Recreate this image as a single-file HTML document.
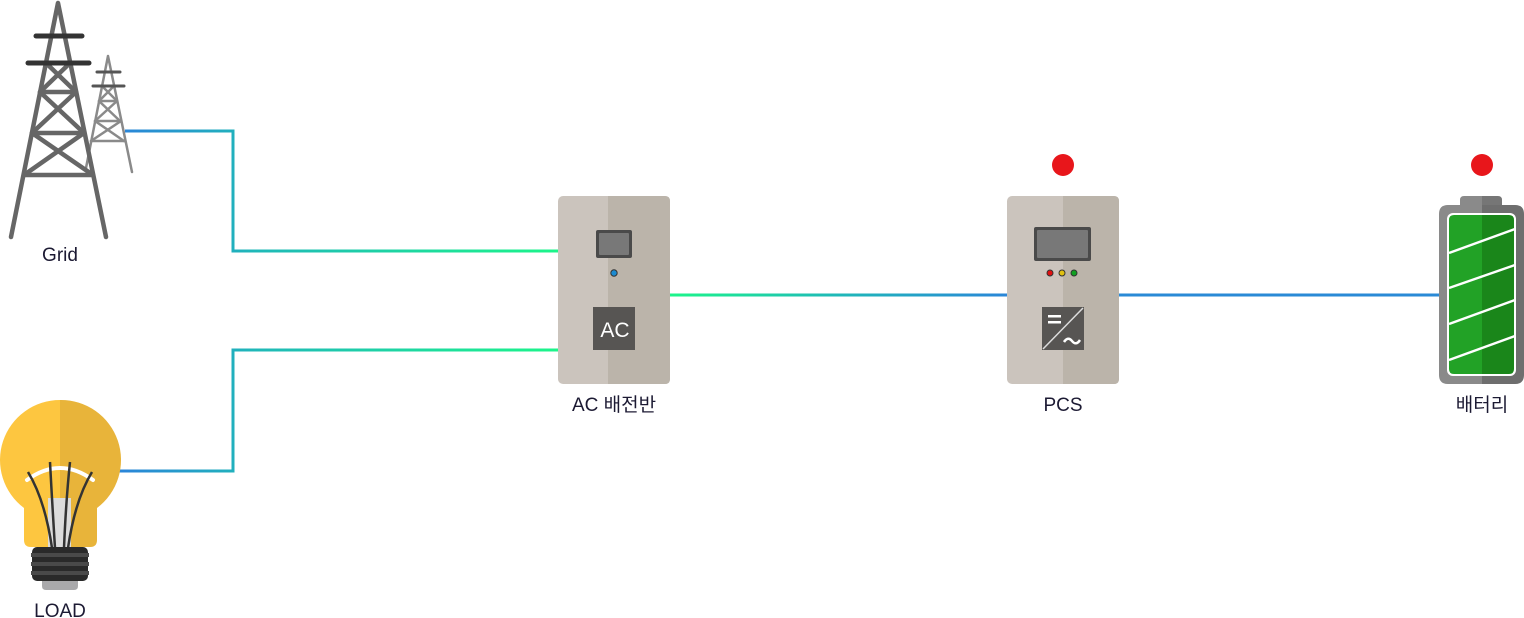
<!DOCTYPE html>
<html><head><meta charset="utf-8"><style>
html,body{margin:0;padding:0;background:#fff;}
svg{display:block;}
text{font-family:"Liberation Sans","Noto Sans CJK KR",sans-serif;font-size:19px;fill:#1c1a33;text-anchor:middle;}
</style></head><body>
<svg width="1524" height="618" viewBox="0 0 1524 618" xmlns="http://www.w3.org/2000/svg">
<defs>
<linearGradient id="g1" gradientUnits="userSpaceOnUse" x1="125" y1="0" x2="558" y2="0">
<stop offset="0" stop-color="#2a86d8"/><stop offset="0.3" stop-color="#1fb8b8"/><stop offset="1" stop-color="#1cf58a"/></linearGradient>
<linearGradient id="g2" gradientUnits="userSpaceOnUse" x1="670" y1="0" x2="1007" y2="0">
<stop offset="0" stop-color="#1cf58a"/><stop offset="0.5" stop-color="#1fb8b8"/><stop offset="1" stop-color="#2a86d8"/></linearGradient>
</defs>
<polyline points="125,131 233,131 233,251 558,251" fill="none" stroke="url(#g1)" stroke-width="3"/>
<polyline points="118,471 233,471 233,350 558,350" fill="none" stroke="url(#g1)" stroke-width="3"/>
<line x1="670" y1="295" x2="1007" y2="295" stroke="url(#g2)" stroke-width="3"/>
<line x1="1119" y1="295" x2="1440" y2="295" stroke="#2a8ad6" stroke-width="3"/>

<!-- small tower -->
<g stroke="#8a8a8a" stroke-width="2.5" fill="none" stroke-linecap="round">
<path d="M108,56 L86,168 M108,56 L132,172"/>
<path d="M102,86 L117,101 M114,86 L99,101 M99,101 L120,121 M117,101 L95,121 M95,121 L124,141 M121,121 L91,141"/>
<path d="M99,101 L117,101 M95,121 L121,121 M91,141 L125,141"/>
</g>
<g stroke="#555" stroke-width="3" stroke-linecap="round"><line x1="97" y1="72" x2="120" y2="72"/><line x1="93" y1="86" x2="124" y2="86"/></g>
<!-- big tower -->
<g stroke="#666" stroke-width="4.5" fill="none" stroke-linecap="round">
<path d="M58,3 L11,237 M58,3 L106,237"/>
<path d="M46,63 L76,92 M70,63 L40,92 M40,92 L84,133 M76,92 L32,133 M32,133 L93,175 M84,133 L24,175"/>
<path d="M40,92 L76,92 M32,133 L84,133 M24,175 L93,175"/>
</g>
<g stroke="#333" stroke-width="5" stroke-linecap="round"><line x1="36" y1="36" x2="82" y2="36"/><line x1="28" y1="63" x2="89" y2="63"/></g>
<text x="60" y="261">Grid</text>

<!-- bulb -->
<path d="M60,400 A60,60 0 0 0 24,508 L24,540 Q24,547 31,547 L60,547 Z" fill="#fdc640"/>
<path d="M60,400 A60,60 0 0 1 97,508 L97,540 Q97,547 90,547 L60,547 Z" fill="#e8b43a"/>
<rect x="48" y="498" width="23" height="50" fill="#dcdcdc"/>
<path d="M27,480 Q60,456 93,480" fill="none" stroke="#fff" stroke-width="4" stroke-linecap="round"/>
<g fill="none" stroke="#333" stroke-width="2.5"><path d="M28,472 Q45,500 52,548"/><path d="M50,462 Q52,500 55,548"/><path d="M70,462 Q66,500 64,548"/><path d="M92,472 Q75,500 68,548"/></g>
<rect x="32" y="547" width="56" height="34" rx="5" fill="#2a2a2a"/>
<g fill="#4a4a4a"><rect x="31" y="553" width="58" height="4"/><rect x="31" y="562" width="58" height="4"/><rect x="31" y="571" width="58" height="4"/></g>
<path d="M42,581 L78,581 L78,586 Q78,590 74,590 L46,590 Q42,590 42,586 Z" fill="#a9a9ab"/>
<text x="60" y="617">LOAD</text>

<!-- AC box -->
<rect x="558" y="196" width="112" height="188" rx="5" fill="#cbc4bd"/>
<path d="M608,196 L665,196 Q670,196 670,201 L670,379 Q670,384 665,384 L608,384 Z" fill="#bbb4aa"/>
<rect x="596" y="230" width="36" height="28" rx="2" fill="#4a4a4a"/>
<rect x="599" y="233" width="30" height="22" rx="1" fill="#787878"/>
<circle cx="614" cy="273" r="3.2" fill="#1a8ad0" stroke="#333" stroke-width="1"/>
<rect x="593" y="307" width="42" height="43" fill="#575553"/>
<text x="615" y="337" style="fill:#fff;font-size:21px">AC</text>
<text x="614" y="411">AC 배전반</text>

<!-- PCS box -->
<circle cx="1063" cy="165" r="11" fill="#e8161b"/>
<rect x="1007" y="196" width="112" height="188" rx="5" fill="#cbc4bd"/>
<path d="M1063,196 L1114,196 Q1119,196 1119,201 L1119,379 Q1119,384 1114,384 L1063,384 Z" fill="#bbb4aa"/>
<rect x="1034" y="227" width="57" height="34" rx="2" fill="#4a4a4a"/>
<rect x="1037" y="230" width="51" height="28" rx="1" fill="#787878"/>
<circle cx="1050" cy="273" r="3" fill="#e01010" stroke="#333" stroke-width="1"/>
<circle cx="1062" cy="273" r="3" fill="#e0c010" stroke="#333" stroke-width="1"/>
<circle cx="1074" cy="273" r="3" fill="#10a020" stroke="#333" stroke-width="1"/>
<rect x="1042" y="307" width="42" height="43" fill="#575553"/>
<line x1="1043" y1="349" x2="1083" y2="308" stroke="#ddd" stroke-width="1.5"/>
<rect x="1048" y="315" width="13" height="2.5" fill="#fff"/><rect x="1048" y="321" width="13" height="2.5" fill="#fff"/>
<path d="M1064,342 Q1068,336 1072,341 Q1076,346 1080,340" fill="none" stroke="#fff" stroke-width="2.5"/>
<text x="1063" y="411">PCS</text>

<!-- battery -->
<circle cx="1482" cy="165" r="11" fill="#e8161b"/>
<path d="M1460,210 L1460,200 Q1460,196 1464,196 L1482,196 L1482,210 Z" fill="#8a8a8a"/>
<path d="M1482,196 L1498,196 Q1502,196 1502,200 L1502,210 L1482,210 Z" fill="#767676"/>
<path d="M1482,205 L1448,205 Q1439,205 1439,214 L1439,375 Q1439,384 1448,384 L1482,384 Z" fill="#8a8a8a"/>
<path d="M1482,205 L1515,205 Q1524,205 1524,214 L1524,375 Q1524,384 1515,384 L1482,384 Z" fill="#6e6e6e"/>
<rect x="1447" y="213" width="69" height="163" rx="6" fill="#fff"/>
<path d="M1482,215 L1454,215 Q1449,215 1449,220 L1449,369 Q1449,374 1454,374 L1482,374 Z" fill="#22a226"/>
<path d="M1482,215 L1509,215 Q1514,215 1514,220 L1514,369 Q1514,374 1509,374 L1482,374 Z" fill="#1a861a"/>
<g stroke="#fff" stroke-width="2.5"><line x1="1449" y1="253" x2="1515" y2="229"/><line x1="1449" y1="288" x2="1515" y2="265"/><line x1="1449" y1="324" x2="1515" y2="300"/><line x1="1449" y1="360" x2="1515" y2="336"/></g>
<text x="1482" y="411">배터리</text>
</svg>
</body></html>
